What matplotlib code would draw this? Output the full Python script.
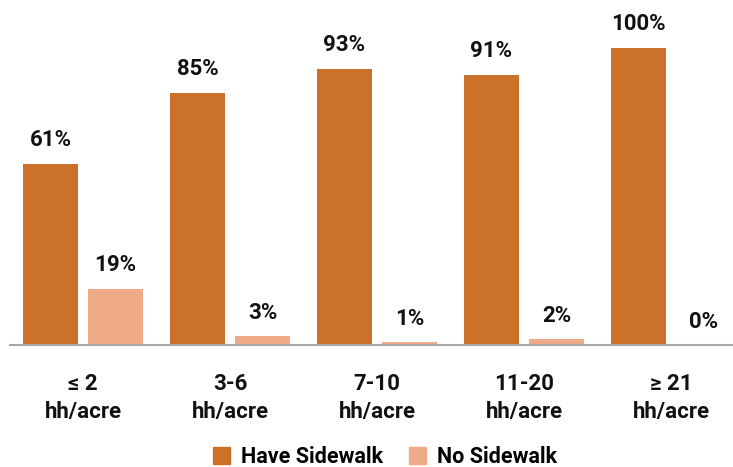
import matplotlib
matplotlib.use("Agg")
import matplotlib.pyplot as plt
import numpy as np
from matplotlib.patches import Patch

categories = ["≤ 2\nhh/acre", "3-6\nhh/acre", "7-10\nhh/acre", "11-20\nhh/acre", "≥ 21\nhh/acre"]
have_sidewalk = [61, 85, 93, 91, 100]
no_sidewalk = [19, 3, 1, 2, 0]
series_names = ["Have Sidewalk", "No Sidewalk"]

c_have = "#CC7129"
c_no = "#EFAA88"

plt.rcParams['font.family'] = ['Roboto', 'DejaVu Sans']
plt.rcParams['font.weight'] = 'bold'

W, H = 733, 467
fig = plt.figure(figsize=(W/100, H/100), dpi=100)
left = 9.5 / W
bottom = (H - 345) / H
height = 297 / H
width = 735 / W
ax = fig.add_axes([left, bottom, width, height])

x = np.arange(len(categories))
bw = 0.38
off = 0.221
b1 = ax.bar(x - off, have_sidewalk, bw, color=c_have, zorder=2)
b2 = ax.bar(x + off, no_sidewalk, bw, color=c_no, zorder=2)

for bars, vals in ((b1, have_sidewalk), (b2, no_sidewalk)):
    for rect, v in zip(bars, vals):
        ax.annotate(f"{v}%", (rect.get_x() + rect.get_width()/2, rect.get_height()),
                    xytext=(0, 9), textcoords="offset points", ha="center", va="bottom",
                    fontsize=16, fontweight="bold", color="#111111", annotation_clip=False)

ax.set_xlim(-0.5, 4.5)
ax.set_ylim(0, 100)
ax.set_xticks(x)
ax.set_xticklabels(categories, fontsize=16, fontweight="bold", color="#111111", linespacing=1.35)
ax.tick_params(axis="x", length=0, pad=20)
ax.set_yticks([])
for s in ("top", "right", "left"):
    ax.spines[s].set_visible(False)
ax.spines["bottom"].set_color("#A6A6A6")
ax.spines["bottom"].set_linewidth(1.5)

handles = [Patch(color=c_have), Patch(color=c_no)]
fig.legend(handles, series_names, loc="center", bbox_to_anchor=(385/W, 1 - 457/H), ncol=2,
           frameon=False, prop={"size": 15.5, "weight": "bold"}, handlelength=0.8, handleheight=0.8,
           columnspacing=1.2, handletextpad=0.5)

fig.savefig("out.png", dpi=100)
